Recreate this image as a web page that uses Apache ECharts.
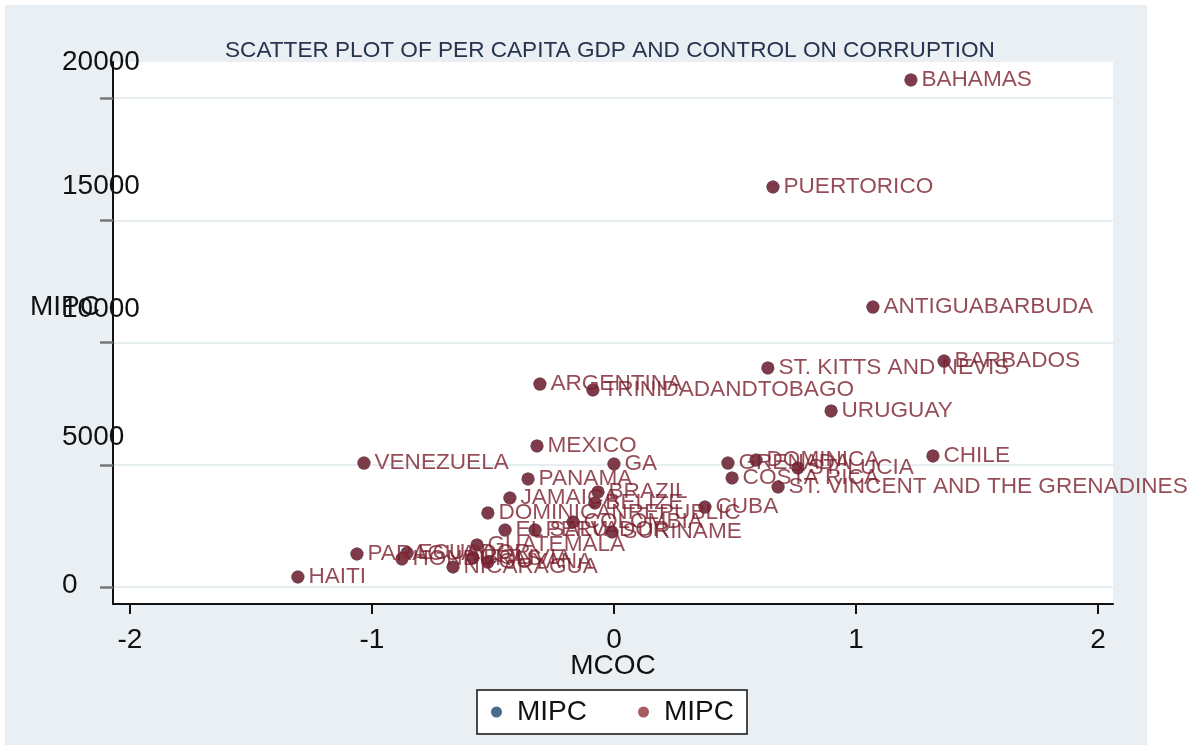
<!DOCTYPE html>
<html>
<head>
<meta charset="utf-8">
<script src="https://cdn.jsdelivr.net/npm/echarts@6/dist/echarts.min.js"></script>
<style>
  body { margin: 0; background: #fff; }
  #chart { width: 1202px; height: 747px; }
</style>
</head>
<body>
<div id="chart"></div>
<script>
const countries = [
    'BAHAMAS', 'PUERTORICO', 'ANTIGUABARBUDA', 'BARBADOS', 'ST. KITTS AND NEVIS',
    'ARGENTINA', 'TRINIDADANDTOBAGO', 'URUGUAY', 'MEXICO', 'CHILE',
    'VENEZUELA', 'GA', 'GRENADA', 'DOMINICA', 'ST. LUCIA',
    'COSTA RICA', 'ST. VINCENT AND THE GRENADINES', 'PANAMA', 'BRAZIL', 'BELIZE',
    'JAMAICA', 'CUBA', 'DOMINICANREPUBLIC', 'COLOMBIA', 'EL SALVADOR',
    'PERU', 'SURINAME', 'GUATEMALA', 'ECUADOR', 'PARAGUAY',
    'HONDURAS', 'BOLIVIA', 'GUYANA', 'NICARAGUA', 'HAITI'
]

const mcoc = [
    1.227, 0.657, 1.070, 1.364, 0.636,
    -0.306, -0.087, 0.897, -0.318, 1.318,
    -1.033, 0.0, 0.471, 0.587, 0.760,
    0.488, 0.678, -0.355, -0.066, -0.079,
    -0.430, 0.376, -0.521, -0.169, -0.450,
    -0.326, -0.008, -0.566, -0.855, -1.062,
    -0.876, -0.583, -0.521, -0.665, -1.306
]

const mipc = [
    20740, 16360, 11450, 9240, 8960,
    8300, 8060, 7200, 5770, 5360,
    5070, 5030, 5070, 5190, 4870,
    4460, 4090, 4420, 3890, 3440,
    3640, 3270, 3030, 2660, 2330,
    2330, 2250, 1720, 1390, 1350,
    1150, 1190, 1020, 820, 410
]

const xTicks = [-2, -1, 0, 1, 2]
const yTicks = [0, 5000, 10000, 15000, 20000]
// the y labels sit a bit above their ticks in the original
const yLabelLift = { 0: 2, 5000: 27, 10000: 33, 15000: 34, 20000: 36 }

let points = []
for (let i = 0; i < countries.length; i++) {
    points.push({ name: countries[i], value: [mcoc[i], mipc[i]] })
}

let rich = {}
for (let v of yTicks) {
    rich['t' + v] = { fontSize: 28, color: '#111', fontFamily: 'Liberation Sans', padding: [0, 0, yLabelLift[v] * 2, 0] }
}

let chart = echarts.init(document.getElementById('chart'));
chart.setOption({
    backgroundColor: '#fff',
    animation: false,
    graphic: [
        // light outer panel of the graph
        { type: 'rect', shape: { x: 5, y: 5, width: 1142, height: 740 }, style: { fill: '#e9eff2' }, z: -10, silent: true }
    ],
    title: {
        text: 'SCATTER PLOT OF PER CAPITA GDP AND CONTROL ON CORRUPTION',
        left: 220,
        top: 34,
        textStyle: { fontSize: 22.6, fontWeight: 'normal', color: '#27344f', fontFamily: 'Liberation Sans' }
    },
    legend: {
        left: 477,
        top: 690,
        padding: [8, 13, 8, 14],
        backgroundColor: '#fff',
        borderColor: '#111',
        borderWidth: 1.5,
        borderRadius: 0,
        itemGap: 51,
        itemWidth: 11,
        itemHeight: 11,
        icon: 'circle',
        textStyle: { fontSize: 28, color: '#111', fontFamily: 'Liberation Sans', padding: [0, 0, 0, 10] },
        data: [
            { name: 'MIPC', itemStyle: { color: '#1a476f' } },
            { name: 'MIPC ', itemStyle: { color: '#90353b' } }
        ],
        formatter: (n) => n.trim()
    },
    grid: {
        left: 113, right: 89, top: 62, bottom: 143,
        outerBoundsMode: 'none',
        show: true, backgroundColor: '#fff', borderWidth: 0
    },
    xAxis: {
        type: 'value',
        min: -2.07,
        max: 2.062,
        name: 'MCOC',
        nameLocation: 'middle',
        nameGap: 48,
        nameMoveOverlap: false,
        nameTextStyle: { fontSize: 28, color: '#111', fontFamily: 'Liberation Sans' },
        axisLine: { show: true, onZero: false, lineStyle: { color: '#111', width: 2 } },
        axisTick: { show: true, length: 10, customValues: xTicks, lineStyle: { color: '#111', width: 2 } },
        axisLabel: { customValues: xTicks, fontSize: 28, color: '#111', margin: 22, fontFamily: 'Liberation Sans' },
        splitLine: { show: false }
    },
    yAxis: {
        type: 'value',
        min: -695,
        max: 21473,
        name: 'MIPC',
        nameLocation: 'middle',
        nameGap: 13,
        nameRotate: 0,
        nameMoveOverlap: false,
        nameTextStyle: {
            fontSize: 28, color: '#111', fontFamily: 'Liberation Sans',
            verticalAlign: 'bottom', padding: [0, 0, 12, 0]
        },
        axisLine: { show: true, onZero: false, lineStyle: { color: '#111', width: 2 } },
        axisTick: { show: true, length: 13, customValues: yTicks, lineStyle: { color: '#777', width: 2.5 } },
        axisLabel: {
            customValues: yTicks,
            align: 'left',
            margin: 51,
            formatter: (v) => '{t' + v + '|' + v + '}',
            rich: rich
        },
        splitLine: { show: true, lineStyle: { color: '#e6eef1', width: 2 } }
    },
    series: [
        {
            name: 'MIPC',
            type: 'scatter',
            symbolSize: 13,
            itemStyle: { color: '#1a476f' },
            data: points,
            z: 1
        },
        {
            name: 'MIPC ',
            type: 'scatter',
            symbolSize: 13,
            itemStyle: { color: '#8c2f38' },
            label: {
                show: true,
                position: 'right',
                distance: 4,
                formatter: '{b}',
                fontSize: 22.6,
                color: '#7a1f2c',
                fontFamily: 'Liberation Sans'
            },
            labelLayout: { hideOverlap: false },
            data: points,
            z: 2
        }
    ]
});
</script>
</body>
</html>
